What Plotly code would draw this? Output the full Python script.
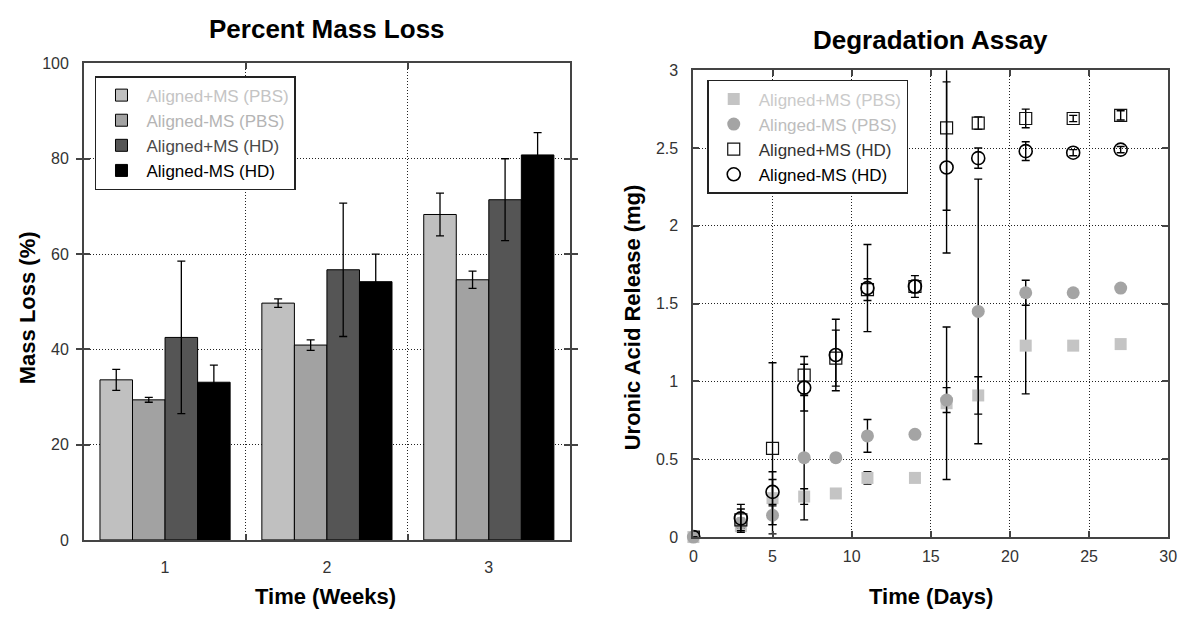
import plotly.graph_objects as go

# ---------------- Data: Percent Mass Loss ----------------
weeks = [1, 2, 3]
week_labels = ["1", "2", "3"]
bar_names = ["Aligned+MS (PBS)", "Aligned-MS (PBS)", "Aligned+MS (HD)", "Aligned-MS (HD)"]
loss_apbs = [33.6, 49.7, 68.3]
loss_apbs_err = [2.2, 0.9, 4.5]
loss_mpbs = [29.4, 40.9, 54.6]
loss_mpbs_err = [0.5, 1.1, 1.8]
loss_ahd = [42.5, 56.7, 71.4]
loss_ahd_err = [16.0, 14.0, 8.6]
loss_mhd = [33.1, 54.2, 80.8]
loss_mhd_err = [3.6, 5.8, 4.7]

# ---------------- Data: Degradation Assay ----------------
days = [0, 3, 5, 7, 9, 11, 14, 16, 18, 21, 24, 27]
pt_names = ["Aligned+MS (PBS)", "Alinged-MS (PBS)", "Aligned+MS (HD)", "Aligned-MS (HD)"]
ua_apbs = [0, 0.07, 0.25, 0.26, 0.28, 0.38, 0.38, 0.86, 0.91, 1.23, 1.23, 1.24]
ua_apbs_err = [0, 0.03, 0.17, 0.05, 0.03, 0.04, 0.02, 0.49, 0.12, 0.31, 0.02, 0.02]
ua_mpbs = [0, 0.09, 0.14, 0.51, 0.51, 0.65, 0.66, 0.88, 1.45, 1.57, 1.57, 1.60]
ua_mpbs_err = [0, 0.03, 0.06, 0.40, 0.02, 0.105, 0.02, 0.08, 0.85, 0.08, 0.02, 0.02]
ua_ahd = [0, 0.11, 0.57, 1.04, 1.15, 1.59, 1.61, 2.63, 2.66, 2.69, 2.69, 2.71]
ua_ahd_err = [0, 0.07, 0.55, 0.12, 0.18, 0.07, 0.04, 0.53, 0.04, 0.06, 0.02, 0.03]
ua_mhd = [0, 0.12, 0.29, 0.96, 1.17, 1.60, 1.61, 2.375, 2.435, 2.48, 2.47, 2.49]
ua_mhd_err = [0, 0.09, 0.08, 0.15, 0.23, 0.28, 0.07, 0.55, 0.065, 0.06, 0.02, 0.02]

FONT = "Liberation Sans, Arial, sans-serif"
W, H = 1190, 618

fig = go.Figure()

bar_colors = ["#c0c0c0", "#a2a2a2", "#555555", "#000000"]
bar_text_colors = ["#c4c4c4", "#b4b4b4", "#4a4a4a", "#000000"]
bar_vals = [loss_apbs, loss_mpbs, loss_ahd, loss_mhd]
bar_errs = [loss_apbs_err, loss_mpbs_err, loss_ahd_err, loss_mhd_err]
for name, col, tcol, v, e in zip(bar_names, bar_colors, bar_text_colors, bar_vals, bar_errs):
    fig.add_trace(go.Bar(
        x=weeks, y=v, name=f'<span style="color:{tcol}">{name}</span>',
        marker=dict(color=col, line=dict(color="#000", width=1)),
        error_y=dict(type="data", array=e, color="#000", thickness=1.3, width=4),
        xaxis="x", yaxis="y", legend="legend",
    ))

pt_styles = [
    dict(symbol="square", color="#c4c4c4", size=12, line=dict(width=0)),
    dict(symbol="circle", color="#a4a4a4", size=13, line=dict(width=0)),
    dict(symbol="square-open", color="#111", size=12, line=dict(width=1.2, color="#111")),
    dict(symbol="circle-open", color="#000", size=13, line=dict(width=1.6, color="#000")),
]
pt_text_colors = ["#cacaca", "#bdbdbd", "#333333", "#000000"]
pt_vals = [ua_apbs, ua_mpbs, ua_ahd, ua_mhd]
pt_errs = [ua_apbs_err, ua_mpbs_err, ua_ahd_err, ua_mhd_err]
for i, (name, st, tcol, v, e) in enumerate(zip(pt_names, pt_styles, pt_text_colors, pt_vals, pt_errs)):
    fig.add_trace(go.Scatter(
        x=days, y=v, mode="markers", name=f'<span style="color:{tcol}">{name}</span>',
        marker=st,
        error_y=dict(type="data", array=e, color="#000", thickness=1.4, width=4),
        xaxis="x2", yaxis="y2", legend="legend2",
        cliponaxis=(i >= 2),
    ))

def px_x(a, b):
    return [a / W, b / W]

def px_y(top, bottom):
    return [1 - bottom / H, 1 - top / H]

tickfont = dict(family=FONT, size=16, color="#333")
grid = dict(showgrid=True, gridcolor="#222", griddash="1px,2px", gridwidth=1)
axline = dict(showline=True, linecolor="#444", linewidth=2, mirror=True)

fig.update_layout(
    width=W, height=H,
    margin=dict(l=0, r=0, t=0, b=0),
    paper_bgcolor="white", plot_bgcolor="white",
    barmode="group", bargap=0.196, bargroupgap=0,
    font=dict(family=FONT, color="#000"),
    xaxis=dict(domain=px_x(81, 572), anchor="y", range=[0.5, 3.5],
               tickvals=weeks, ticktext=week_labels, ticks="", showgrid=False,
               tickfont=tickfont, ticklabelstandoff=12, zeroline=False, **axline),
    xaxis3=dict(overlaying="x", anchor="y", range=[0.5, 3.5], tickvals=[1.5, 2.5],
                ticks="inside", ticklen=6, tickcolor="#444", tickwidth=1.5,
                showticklabels=False, mirror="allticks", showline=True,
                linecolor="#444", linewidth=2, zeroline=False, **grid),
    yaxis=dict(domain=px_y(57, 547), anchor="x", range=[0, 100], dtick=20,
               ticks="inside", ticklen=6, tickcolor="#444", tickwidth=1.5,
               tickfont=tickfont, ticklabelstandoff=10, zeroline=False,
               showline=True, linecolor="#444", linewidth=2, mirror="allticks", **grid),
    xaxis2=dict(domain=px_x(697, 1177), anchor="y2", range=[0, 30], dtick=5,
                ticks="inside", ticklen=6, tickcolor="#444", tickwidth=1.5,
                tickfont=tickfont, ticklabelstandoff=4, zeroline=False,
                showline=True, linecolor="#444", linewidth=2, mirror="allticks", **grid),
    yaxis2=dict(domain=px_y(64, 544), anchor="x2", range=[0, 3], dtick=0.5,
                ticks="inside", ticklen=6, tickcolor="#444", tickwidth=1.5,
                tickfont=tickfont, ticklabelstandoff=10, zeroline=False,
                showline=True, linecolor="#444", linewidth=2, mirror="allticks", **grid),
    legend=dict(x=92 / W, y=1 - 70 / H, xanchor="left", yanchor="top",
                bgcolor="white", bordercolor="#222", borderwidth=1.5,
                font=dict(family=FONT, size=17), tracegroupgap=0,
                itemwidth=40),
    legend2=dict(x=711 / W, y=1 - 74 / H, xanchor="left", yanchor="top",
                 bgcolor="white", bordercolor="#222", borderwidth=1.5,
                 font=dict(family=FONT, size=17), tracegroupgap=0,
                 itemwidth=40),
    showlegend=True,
)

# empty trace so the overlay grid axis is drawn
fig.add_trace(go.Scatter(x=[], y=[], xaxis="x3", yaxis="y", showlegend=False, hoverinfo="skip"))

def ann(text, x, y, size, angle=0):
    fig.add_annotation(text=f"<b>{text}</b>", x=x / W, y=1 - y / H, xref="paper", yref="paper",
                       showarrow=False, xanchor="center", yanchor="middle", textangle=angle,
                       font=dict(family=FONT, size=size, color="#000"))

ann("Percent Mass Loss", 327, 22, 26)
ann("Degradation Assay", 937, 33, 26)
ann("Time (Weeks)", 325, 605, 22)
ann("Time (Days)", 937, 605, 22)
ann("Mass Loss (%)", 24, 308, 22, -90)
ann("Uronic Acid Release (mg)", 635, 318, 22, -90)

fig.write_html("out.html")
